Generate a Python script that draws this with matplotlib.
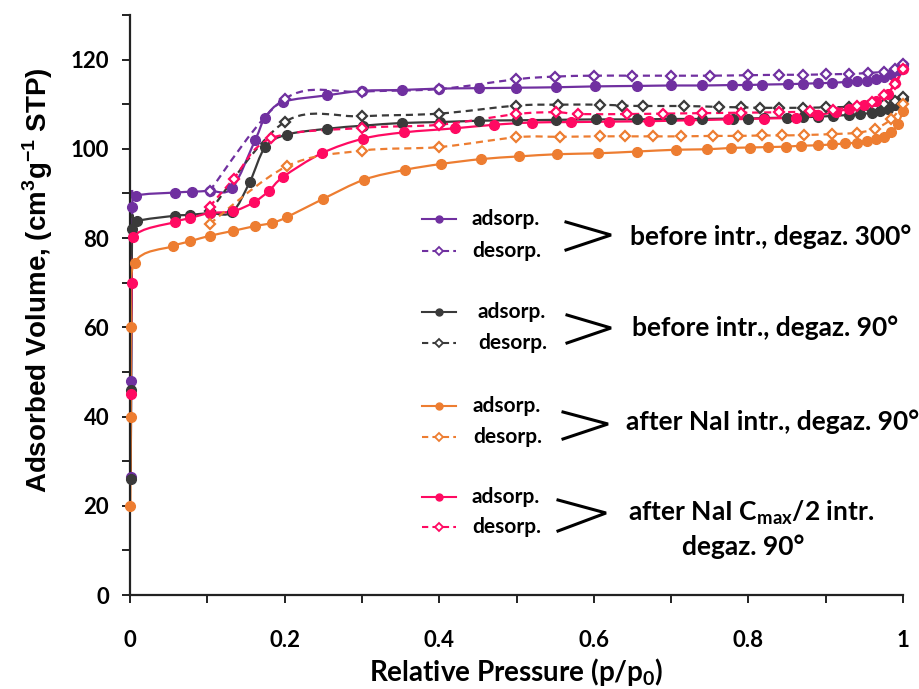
import numpy as np
import matplotlib
matplotlib.use("Agg")
import matplotlib.pyplot as plt
from matplotlib.path import Path
from matplotlib.patches import PathPatch
from matplotlib.lines import Line2D
from matplotlib.ticker import MultipleLocator, FixedLocator

plt.rcParams['font.family'] = ['Lato', 'DejaVu Sans']
plt.rcParams['font.weight'] = 'bold'

# ---------------- data ----------------
purple_ads_p = [0.001, 0.0015, 0.003, 0.008, 0.058, 0.08, 0.103, 0.132, 0.162, 0.175, 0.198, 0.255, 0.30,
                0.352, 0.40, 0.452, 0.50, 0.551, 0.602, 0.656, 0.70, 0.74, 0.779, 0.798, 0.817, 0.851,
                0.87, 0.89, 0.908, 0.927, 0.94, 0.953, 0.965, 0.975, 0.985, 0.993, 1.0]
purple_ads_v = [26.5, 48, 87, 89.5, 90.2, 90.4, 90.6, 91.2, 102, 107, 110.5, 112, 113,
                113.2, 113.5, 113.6, 113.7, 113.8, 114.0, 114.1, 114.2, 114.2, 114.3, 114.3, 114.4, 114.5,
                114.6, 114.7, 114.8, 115.0, 115.1, 115.3, 115.6, 116.0, 116.7, 117.6, 118.9]
purple_des_p = [0.103, 0.2, 0.30, 0.40, 0.50, 0.55, 0.60, 0.65, 0.70, 0.75, 0.80, 0.84, 0.87, 0.90,
                0.93, 0.955, 0.975, 0.99, 1.0]
purple_des_v = [90.6, 111.2, 112.8, 113.4, 115.6, 116.2, 116.4, 116.4, 116.4, 116.4, 116.5, 116.6, 116.6,
                116.7, 116.8, 117.0, 117.3, 117.8, 119.0]

black_ads_p = [0.001, 0.0015, 0.003, 0.009, 0.058, 0.078, 0.103, 0.132, 0.155, 0.175, 0.203, 0.255, 0.302,
               0.352, 0.401, 0.452, 0.501, 0.551, 0.603, 0.656, 0.70, 0.74, 0.78, 0.80, 0.82, 0.85, 0.87,
               0.89, 0.91, 0.93, 0.945, 0.96, 0.97, 0.98, 0.99, 1.0]
black_ads_v = [26, 46, 82, 83.8, 85, 85.2, 85.6, 85.8, 92.6, 100.4, 103.2, 104.5, 105.2,
               105.8, 106.0, 106.3, 106.4, 106.5, 106.6, 106.6, 106.7, 106.7, 106.8, 106.8, 106.9, 107.0, 107.1,
               107.2, 107.4, 107.6, 107.8, 108.1, 108.4, 108.9, 109.8, 111.2]
black_des_p = [0.103, 0.2, 0.30, 0.40, 0.50, 0.554, 0.608, 0.636, 0.664, 0.717, 0.762, 0.79, 0.815, 0.839,
               0.87, 0.90, 0.93, 0.955, 0.975, 0.99, 1.0]
black_des_v = [86, 106, 107.3, 107.9, 109.7, 109.9, 109.9, 109.7, 109.6, 109.6, 109.4, 109.3, 109.2, 109.2,
               109.2, 109.3, 109.4, 109.6, 110.0, 110.7, 111.6]

orange_ads_p = [0.0005, 0.001, 0.0015, 0.006, 0.056, 0.078, 0.103, 0.133, 0.162, 0.184, 0.203, 0.25, 0.303,
                0.356, 0.402, 0.454, 0.503, 0.553, 0.605, 0.656, 0.706, 0.746, 0.777, 0.802, 0.826, 0.849,
                0.868, 0.89, 0.908, 0.925, 0.94, 0.953, 0.965, 0.975, 0.985, 0.993, 1.0]
orange_ads_v = [20, 40, 60, 74.5, 78.2, 79.3, 80.5, 81.6, 82.7, 83.4, 84.7, 88.8, 93.1,
                95.3, 96.6, 97.7, 98.3, 98.8, 99.0, 99.4, 99.8, 99.9, 100.2, 100.3, 100.4, 100.5,
                100.7, 100.8, 101.0, 101.2, 101.4, 101.7, 102.1, 102.7, 103.8, 105.5, 108.5]
orange_des_p = [0.103, 0.203, 0.30, 0.40, 0.50, 0.556, 0.608, 0.64, 0.677, 0.713, 0.754, 0.787, 0.818,
                0.843, 0.872, 0.908, 0.94, 0.964, 0.985, 1.0]
orange_des_v = [83.2, 96.1, 99.6, 100.4, 102.6, 102.7, 102.8, 102.8, 102.8, 102.8, 102.9, 102.9, 103.0,
                103.0, 103.1, 103.3, 103.6, 104.5, 106.7, 110.0]

pink_ads_p = [0.001, 0.002, 0.004, 0.058, 0.078, 0.103, 0.133, 0.16, 0.18, 0.198, 0.248, 0.302, 0.355,
              0.42, 0.471, 0.52, 0.571, 0.62, 0.672, 0.723, 0.774, 0.82, 0.862, 0.89, 0.913, 0.93, 0.949,
              0.965, 0.98, 0.99, 1.0]
pink_ads_v = [45, 70, 80.2, 83.6, 84.5, 85.6, 86, 88, 90.6, 93.7, 99.0, 102.3, 103.7,
              104.6, 105.4, 105.9, 106.0, 106.1, 106.2, 106.4, 106.6, 106.8, 107.0, 107.6, 108.3, 109.0, 109.8,
              110.8, 112.4, 114.8, 118]
pink_des_p = [0.103, 0.134, 0.183, 0.30, 0.40, 0.50, 0.551, 0.58, 0.643, 0.69, 0.74, 0.79, 0.84, 0.88,
              0.91, 0.94, 0.96, 0.975, 0.99, 1.0]
pink_des_v = [87, 93.3, 102.4, 104.7, 105.4, 107.8, 108.2, 107.8, 107.8, 107.9, 108.0, 108.1, 108.2, 108.4,
              108.8, 109.6, 110.6, 112, 114.5, 118]

x_ticks = [0, 0.2, 0.4, 0.6, 0.8, 1.0]
x_tick_labels = ['0', '0.2', '0.4', '0.6', '0.8', '1']
y_ticks = [0, 20, 40, 60, 80, 100, 120]
y_tick_labels = ['0', '20', '40', '60', '80', '100', '120']

group_labels = ["before intr., degaz. 300°", "before intr., degaz. 90°",
                "after NaI intr., degaz. 90°", "after NaI C$_{\\mathregular{max}}$/2 intr.\ndegaz. 90°"]
ads_label = "adsorp."
des_label = "desorp."
x_label = "Relative Pressure (p/p$_\\mathregular{0}$)"
y_label = "Adsorbed Volume, (cm$^\\mathregular{3}$g$^\\mathregular{-1}$ STP)"

PURPLE = '#7030A0'
BLACK = '#3A3A3A'
ORANGE = '#ED7D31'
PINK = '#FF0A62'

W, H = 920, 689
fig = plt.figure(figsize=(W / 100, H / 100), dpi=100)
ax = fig.add_axes([130 / W, 1 - 595 / H, (903 - 130) / W, (595 - 15) / H])
ax.set_xlim(0, 1)
ax.set_ylim(0, 130)


def smooth_path(x, y):
    pts = np.column_stack([x, y]).astype(float)
    n = len(pts)
    verts = [pts[0]]
    codes = [Path.MOVETO]
    for i in range(n - 1):
        p0 = pts[i - 1] if i > 0 else pts[i]
        p1 = pts[i]
        p2 = pts[i + 1]
        p3 = pts[i + 2] if i + 2 < n else pts[i + 1]
        c1 = p1 + (p2 - p0) / 6.0
        c2 = p2 - (p3 - p1) / 6.0
        verts += [c1, c2, p2]
        codes += [Path.CURVE4] * 3
    return Path(verts, codes)


def draw_series(px, vv, color, dashed):
    ls = (0, (3.2, 2.2)) if dashed else '-'
    patch = PathPatch(smooth_path(px, vv), facecolor='none', edgecolor=color, lw=1.6,
                      linestyle=ls, transform=ax.transData, zorder=2)
    ax.add_patch(patch)
    if dashed:
        ax.plot(px, vv, linestyle='none', marker='D', ms=5.2, mfc='white', mec=color, mew=1.6,
                zorder=3, clip_on=False)
    else:
        ax.plot(px, vv, linestyle='none', marker='o', ms=7, mfc=color, mec=color, zorder=3,
                clip_on=False)


draw_series(purple_ads_p, purple_ads_v, PURPLE, False)
draw_series(purple_des_p, purple_des_v, PURPLE, True)
draw_series(black_ads_p, black_ads_v, BLACK, False)
draw_series(black_des_p, black_des_v, BLACK, True)
draw_series(pink_ads_p, pink_ads_v, PINK, False)
draw_series(pink_des_p, pink_des_v, PINK, True)
draw_series(orange_ads_p, orange_ads_v, ORANGE, False)
draw_series(orange_des_p, orange_des_v, ORANGE, True)

for s in ['top', 'right']:
    ax.spines[s].set_visible(False)
for s in ['left', 'bottom']:
    ax.spines[s].set_linewidth(1.6)
    ax.spines[s].set_color('#222222')

ax.set_xticks(x_ticks, labels=x_tick_labels)
ax.set_yticks(y_ticks, labels=y_tick_labels)
ax.xaxis.set_minor_locator(MultipleLocator(0.1))
ax.yaxis.set_minor_locator(MultipleLocator(10))
ax.tick_params(which='both', direction='out', length=6, width=1.4, color='#222222')
ax.tick_params(axis='x', which='major', pad=19, labelsize=16)
ax.tick_params(axis='y', which='major', pad=9, labelsize=16)
for lab in ax.get_xticklabels() + ax.get_yticklabels():
    lab.set_fontweight('bold')

fig.text(516 / W, 1 - 672 / H, x_label, ha='center', va='center', fontsize=20, fontweight='bold')
fig.text(38 / W, 1 - 280 / H, y_label, ha='center', va='center', rotation=90, fontsize=20,
         fontweight='bold', family=['Liberation Sans', 'DejaVu Sans'])


def fx(px):
    return px / W


def fy(py):
    return 1 - py / H


colors = [PURPLE, BLACK, ORANGE, PINK]
ads_rows = [219, 312, 406, 497]
des_rows = [251, 343, 437, 527]
text_x = [472, 478, 473, 472]
brackets = [((566, 222), (611, 235), (566, 250)),
            ((567, 315), (611, 328), (567, 343)),
            ((563, 412), (608, 424), (563, 439)),
            ((558, 500), (606, 513), (558, 531))]
label_pos = [(630, 237), (632, 328), (626, 422), (628, 513)]

for i, c in enumerate(colors):
    ya = ads_rows[i]
    yd = des_rows[i]
    fig.add_artist(Line2D([fx(422), fx(439), fx(456)], [fy(ya)] * 3, color=c, lw=1.5,
                          marker='o', ms=5, markevery=[1], mfc=c, mec=c))
    fig.add_artist(Line2D([fx(422), fx(439), fx(456)], [fy(yd)] * 3, color=c, lw=1.5,
                          linestyle=(0, (3, 2)), marker='D', ms=4, markevery=[1], mfc='white',
                          mec=c, mew=1.3))
    fig.text(fx(text_x[i]), fy(ya), ads_label, ha='left', va='center', fontsize=15, fontweight='bold')
    fig.text(fx(text_x[i]), fy(yd), des_label, ha='left', va='center', fontsize=15, fontweight='bold')
    b = brackets[i]
    fig.add_artist(Line2D([fx(p[0]) for p in b], [fy(p[1]) for p in b], color='black', lw=2.2,
                          solid_joinstyle='miter'))

for i, (px, py) in enumerate(label_pos[:3]):
    fig.text(fx(px), fy(py), group_labels[i], ha='left', va='center', fontsize=19, fontweight='bold')
lines4 = group_labels[3].split('\n')
fig.text(fx(628), fy(513), lines4[0], ha='left', va='center', fontsize=19, fontweight='bold')
fig.text(fx(743), fy(547), lines4[1], ha='center', va='center', fontsize=19, fontweight='bold')

fig.savefig('out.png', dpi=100, facecolor='white')
